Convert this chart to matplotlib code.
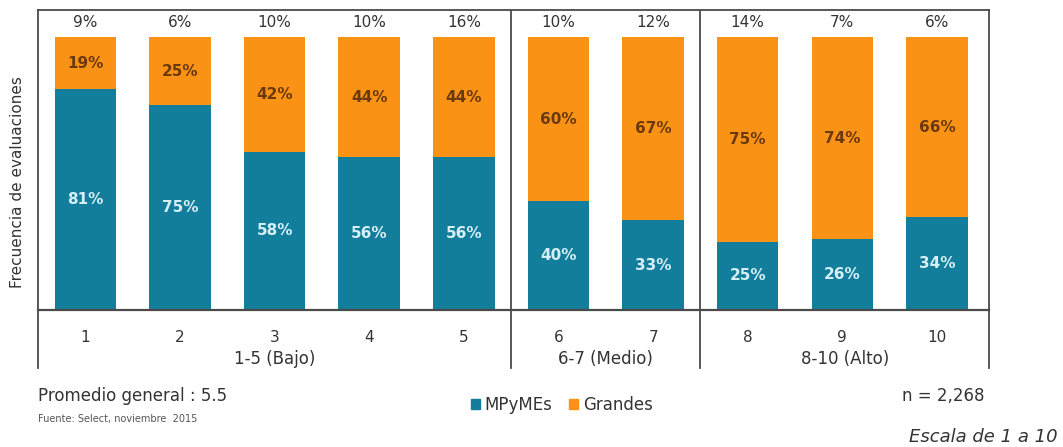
import numpy as np
import matplotlib.pyplot as plt
from matplotlib.patches import Patch
from matplotlib.transforms import blended_transform_factory

# datos
categorias = ['1', '2', '3', '4', '5', '6', '7', '8', '9', '10']
mpymes = [81, 75, 58, 56, 56, 40, 33, 25, 26, 34]
grandes = [19, 25, 42, 44, 44, 60, 67, 75, 74, 66]
frecuencia = [9, 6, 10, 10, 16, 10, 12, 14, 7, 6]
grupos = ['1-5 (Bajo)', '6-7 (Medio)', '8-10 (Alto)']
grupo_limites = [(-0.5, 4.5), (4.5, 6.5), (6.5, 9.55)]

TEAL = '#127e9b'
ORANGE = '#fa9216'
FRAME = '#4a4a4a'
TXT = '#333333'

plt.rcParams['font.family'] = ['DejaVu Sans']

fig = plt.figure(figsize=(10.63, 4.47), dpi=100)
ax = fig.add_axes([38 / 1063, 1 - 310 / 447, (989 - 38) / 1063, 300 / 447])

x = np.arange(len(categorias))
w = 0.65
ax.bar(x, mpymes, width=w, color=TEAL, label='MPyMEs')
ax.bar(x, grandes, width=w, bottom=mpymes, color=ORANGE, label='Grandes')

for xi, m, g, f in zip(x, mpymes, grandes, frecuencia):
    ax.text(xi, m / 2, f'{m}%', ha='center', va='center', fontsize=11,
            color='#d6eef6', fontweight='bold')
    ax.text(xi, m + g / 2, f'{g}%', ha='center', va='center', fontsize=11,
            color='#6a3a0c', fontweight='bold')
    ax.text(xi, 105.5, f'{f}%', ha='center', va='center', fontsize=11,
            color=TXT)

ax.set_xlim(-0.5, 9.55)
ax.set_ylim(0, 110)
ax.set_xticks([])
ax.set_yticks([])
for s in ax.spines.values():
    s.set_color(FRAME)
    s.set_linewidth(1.3)
ax.spines['bottom'].set_linewidth(1.6)

for xv in [4.5, 6.5]:
    ax.axvline(xv, color=FRAME, lw=1.3)

# eje categórico inferior
tr = blended_transform_factory(ax.transData, ax.transAxes)
for xv in [-0.5, 4.5, 6.5, 9.55]:
    ax.plot([xv, xv], [0, -0.193], transform=tr, color=FRAME, lw=1.3,
            clip_on=False)
for xi, c in zip(x, categorias):
    ax.text(xi, -0.09, c, transform=tr, ha='center', va='center',
            fontsize=11, color=TXT)
for (a, b), gname in zip(grupo_limites, grupos):
    ax.text((a + b) / 2, -0.165, gname, transform=tr, ha='center',
            va='center', fontsize=12, color=TXT)

fig.text(18 / 1063, 1 - 182 / 447, 'Frecuencia de evaluaciones', fontsize=11,
         color=TXT, rotation=90, ha='center', va='center')

fig.text(38 / 1063, 1 - 396 / 447, 'Promedio general : 5.5', fontsize=12,
         color=TXT, va='center', ha='left')
fig.text(38 / 1063, 1 - 419 / 447, 'Fuente: Select, noviembre  2015',
         fontsize=7, color='#555555', va='center', ha='left')
fig.text(985 / 1063, 1 - 396 / 447, 'n = 2,268', fontsize=12,
         color=TXT, va='center', ha='right')
fig.text(1058 / 1063, 1 - 437 / 447, 'Escala de 1 a 10', fontsize=13,
         style='italic', color=TXT, va='center', ha='right')

handles = [Patch(color=TEAL, label='MPyMEs'), Patch(color=ORANGE, label='Grandes')]
fig.legend(handles=handles, loc='center', bbox_to_anchor=(562 / 1063, 1 - 405 / 447),
           ncol=2, frameon=False, fontsize=12, handlelength=0.5,
           handleheight=0.5, handletextpad=0.3, columnspacing=1.0,
           labelcolor=TXT)

fig.savefig('out.png', dpi=100)
